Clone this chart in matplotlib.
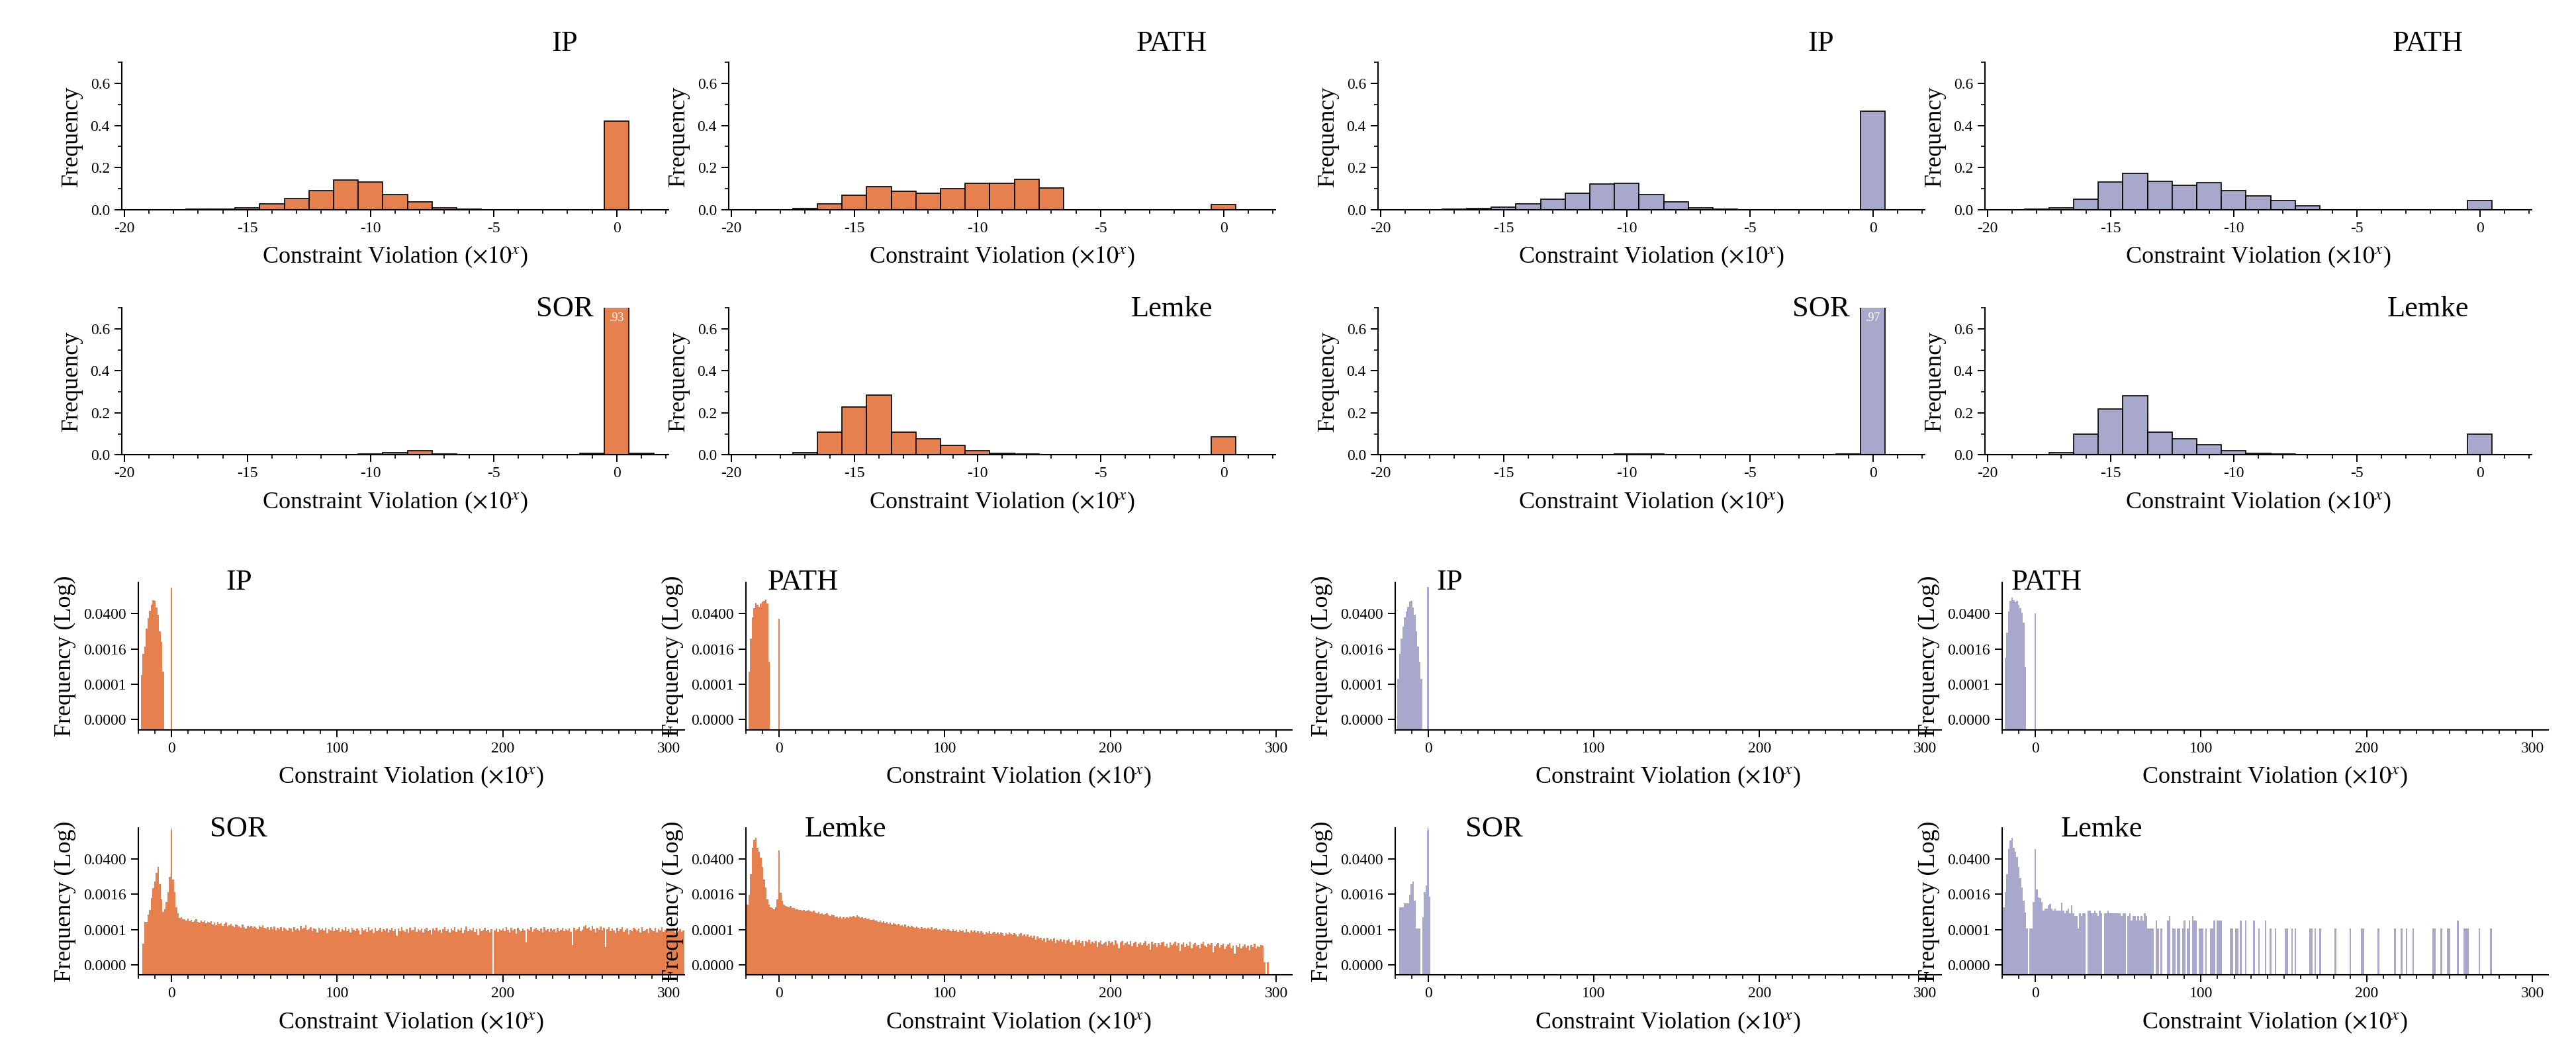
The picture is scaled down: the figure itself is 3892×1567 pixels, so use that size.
import numpy as np
import matplotlib
matplotlib.use('Agg')
import matplotlib.pyplot as plt
from matplotlib.ticker import MultipleLocator, FixedLocator, FixedFormatter, NullLocator

plt.rcParams['font.family'] = 'serif'
plt.rcParams['font.serif'] = ['Liberation Serif', 'DejaVu Serif']
plt.rcParams['mathtext.fontset'] = 'stix'
plt.rcParams['axes.unicode_minus'] = False

ORANGE = '#E6804F'
PURPLE = '#A8A8CC'

# histogram bins (integer exponents), shared by all panels
bins = np.arange(-20, 310)

# frequencies for bins starting at -20
ip_orange = [0, 0, 1.5e-4, 0.001, 0.002, 0.010, 0.026, 0.052, 0.089, 0.140, 0.131,
             0.070, 0.037, 0.008, 0.003, 2e-4, 0, 0, 0, 0, 0.422]
path_orange = [0, 0, 2e-4, 0.004, 0.028, 0.068, 0.110, 0.088, 0.077, 0.101, 0.124,
               0.126, 0.145, 0.104, 5e-4, 0, 0, 0, 0, 0, 0.025]
sor_orange_head = [0, 0, 0, 1.7e-5, 1.26e-4, 1.3e-4, 2.5e-4, 3.8e-4, 1.1e-3, 2.8e-3,
                   0.005, 0.011, 0.019, 0.004, 0.001, 3.2e-4, 4e-4, 8e-4, 0.002, 0.008,
                   0.93, 0.006, 0.002, 5e-4, 2.8e-4, 1.8e-4, 2e-4, 1.6e-4]
# log10 frequency, bins 8..309 (None = empty bin)
sor_orange_tail = [
    -3.78, -3.83, -3.75, -3.86, -3.80, -3.90, -3.84, -3.79, -3.88, -3.92, -3.85, -3.89,
    -3.83, -3.95, -3.88, -3.91, -3.86, -3.99, -3.93, -4.02, -3.90, -3.97,
    -3.94, -4.05, -3.98, -3.92, -4.08, -4.01, -3.96, -4.04, -4.10, -3.99,
    -4.03, -4.07, -4.12, -4.00, -4.09, -4.15, -4.05, -4.11, -4.06, -4.14,
    -4.08, -4.13, -4.18, -4.06, -4.10, -4.02, -4.12, -4.16, -4.09, -4.20,
    -4.11, -4.17, -4.08, -4.22, -4.14, -4.19, -4.10, -4.25, -4.13, -4.18,
    -4.23, -4.12, -4.16, -4.28, -4.09, -4.20, -4.15, -4.24, -4.06, -4.18,
    -4.13, -4.03, -4.21, -4.17, -4.11, -4.26, -4.15, -4.19, -4.30, -4.14,
    -4.20, -4.16, -4.24, -4.12, -4.35, -4.18, -4.22, -4.10, -4.27, -4.16,
    -4.21, -4.14, -4.29, -4.18, -4.23, -4.09, -4.25, -4.17, -4.31, -4.12,
    -4.20, -4.26, -4.15, -4.22, -4.40, -4.13, -4.24, -4.18, -4.28, -4.10,
    -4.23, -4.17, -4.33, -4.14, -4.26, -4.20, -4.12, -4.29, -4.18, -4.24,
    -4.15, -4.30, -4.21, -4.13, -4.27, -4.19, -4.45, -4.16, -4.25, -4.11,
    -4.22, -4.28, -4.17, -4.33, -4.14, -4.24, -4.20, -4.10, -4.29, -4.18,
    -4.23, -4.15, -4.31, -4.19, -4.12, -4.26, -4.21, -4.38, -4.16, -4.24,
    -4.13, -4.27, -4.20, -4.35, -4.17, -4.09, -4.25, -4.19, -4.30, -4.15,
    -4.22, -4.11, -4.28, -4.18, -4.24, -4.14, -4.33, -4.20, -4.08, -4.26,
    -4.17, -4.23, -4.12, -4.29, -4.19, -4.42, -4.16, -4.25, -4.21, -4.13,
    -4.27, -4.20, -4.31, -4.18, None, -4.24, -4.15, -4.28, -4.19, -4.22,
    -4.16, -4.25, -4.10, -4.21, -4.30, -4.14, -4.23, -4.19, -4.36, -4.12,
    -4.20, -4.27, -4.15, -4.24, -4.70, -4.18, -4.22, -4.09, -4.29, -4.17,
    -4.13, -4.21, -4.26, -4.16, -4.32, -4.11, -4.24, -4.19, -4.28, -4.15,
    -4.22, -4.17, -4.30, -4.12, -4.25, -4.20, -4.14, -4.27, -4.18, -4.23,
    -4.16, -4.29, -4.80, -4.13, -4.24, -4.19, -4.11, -4.26, -4.21, -4.08,
    -4.02, -4.15, -4.09, -4.24, -4.05, -4.18, -4.30, -4.12, -4.20, -4.07,
    -4.23, -4.14, -4.90, -4.19, -4.10, -4.27, -4.16, -4.22, -4.33, -4.13,
    -4.25, -4.18, -4.10, -4.29, -4.21, -4.15, -4.38, -4.20, -4.26, -4.12,
    -4.19, -4.24, -4.16, -4.31, -4.09, -4.27, -4.22, -4.17, -4.35, -4.14,
    -4.21, -4.26, -4.13, -4.30, -4.18, -4.24, -4.11, -4.28, -4.20, -4.16,
    -4.23, -4.19, -4.27, -4.14, -4.32, -4.20, -4.25, -4.17, -4.29, -4.22]
lemke_orange_head = [9e-5, 6e-4, 0.0015, 0.010, 0.109, 0.227, 0.284, 0.109, 0.078, 0.046,
                     0.019, 0.006, 0.003, 0.001, 6e-4, 5e-4, 4.5e-4, 4e-4, 5e-4, 0.001,
                     0.086, 0.0018, 9e-4, 6e-4, 5.5e-4]
# log10 frequency, bins 5..296
lemke_orange_tail = [
    -3.28, -3.31, -3.27, -3.35, -3.33,
    -3.40, -3.38, -3.43, -3.41, -3.45, -3.42, -3.47, -3.44, -3.43, -3.46,
    -3.50, -3.45, -3.52, -3.55, -3.49, -3.57, -3.54, -3.60, -3.58, -3.56,
    -3.62, -3.66, -3.59, -3.64, -3.70, -3.67, -3.73, -3.69, -3.75, -3.72,
    -3.76, -3.71, -3.74, -3.69, -3.72, -3.66, -3.70, -3.64, -3.68, -3.73,
    -3.71, -3.76, -3.74, -3.79, -3.77, -3.82, -3.80, -3.78, -3.85, -3.83,
    -3.88, -3.84, -3.91, -3.86, -3.94, -3.89, -3.97, -3.92, -4.00, -3.95,
    -3.98, -4.03, -3.96, -4.05, -4.01, -4.07, -3.99, -4.09, -4.04, -4.11,
    -4.06, -4.10, -4.14, -4.08, -4.13, -4.17, -4.09, -4.15, -4.12, -4.19,
    -4.14, -4.18, -4.11, -4.21, -4.16, -4.13, -4.20, -4.17, -4.23, -4.15,
    -4.19, -4.24, -4.17, -4.22, -4.27, -4.18, -4.25, -4.21, -4.29, -4.20,
    -4.26, -4.23, -4.30, -4.19, -4.28, -4.33, -4.24, -4.29, -4.22, -4.31,
    -4.27, -4.35, -4.25, -4.30, -4.38, -4.28, -4.33, -4.26, -4.36, -4.31,
    -4.29, -4.37, -4.32, -4.40, -4.30, -4.35, -4.43, -4.33, -4.38, -4.31,
    -4.36, -4.42, -4.34, -4.39, -4.47, -4.37, -4.33, -4.44, -4.40, -4.46,
    -4.38, -4.49, -4.43, -4.52, -4.45, -4.60, -4.48, -4.55, -4.51, -4.63,
    -4.56, -4.70, -4.53, -4.62, -4.58, -4.66, -4.54, -4.72, -4.59, -4.64,
    -4.57, -4.68, -4.61, -4.75, -4.63, -4.58, -4.70, -4.65, -4.80, -4.60,
    -4.67, -4.62, -4.74, -4.66, -4.85, -4.64, -4.71, -4.59, -4.77, -4.69,
    -4.73, -4.65, -4.90, -4.70, -4.62, -4.78, -4.72, -4.68, -4.83, -4.66,
    -4.74, -4.69, -4.80, -4.63, -4.77, -4.95, -4.71, -4.66, -4.82, -4.73,
    -4.68, -4.79, -4.64, -4.85, -4.72, -4.67, -4.90, -4.75, -4.70, -4.81,
    -4.73, -4.66, -4.84, -4.76, -5.00, -4.69, -4.78, -4.72, -4.88, -4.74,
    -4.80, -4.71, -4.67, -4.86, -4.75, -4.92, -4.70, -4.82, -4.77, -4.69,
    -4.84, -4.74, -5.05, -4.79, -4.71, -4.88, -4.76, -4.83, -4.68, -4.93,
    -4.78, -4.72, -4.86, -4.80, -4.95, -4.75, -4.69, -4.84, -4.90, -4.77,
    -4.82, -4.74, -5.10, -4.87, -4.79, -4.73, -4.91, -4.81, -4.76, -4.98,
    -4.85, -4.78, -4.74, -4.93, -4.83, -5.15, -4.80, -4.88, -4.76, -4.95,
    -4.86, -4.79, -4.92, -4.84, -5.02, -4.81, -4.89, -4.77, -4.94, -4.85,
    -4.88, -4.80, -4.83, -5.50, None, -5.50, None]

ip_purple = [0, 0, 1e-4, 0.001, 0.004, 0.012, 0.028, 0.050, 0.077, 0.123, 0.126,
             0.071, 0.036, 0.008, 0.002, 5e-4, 1e-4, 0, 0, 0, 0.469]
path_purple = [0, 0, 7e-4, 0.007, 0.049, 0.131, 0.173, 0.135, 0.116, 0.128, 0.091,
               0.065, 0.043, 0.017, 3e-4, 0, 0, 0, 0, 0, 0.042]
sor_purple = [0, 0, 0, 5e-4, 5e-4, 5e-4, 7e-4, 7e-4, 7e-4, 0.0015, 0.004,
              0.005, 9e-4, 7e-5, 7e-5, 7e-5, 0, 2e-4, 0.0019, 0.0035, 0.97, 0.0013]
lemke_purple_head = [7e-5, 5e-4, 0.002, 0.010, 0.100, 0.219, 0.280, 0.109, 0.078, 0.047,
                     0.019, 0.007, 0.003, 9e-4, 3e-4, 7e-5, 0, 7e-5, 7e-5, 8e-4,
                     0.100, 0.0025, 0.0012, 0.0011, 8e-4]
lemke_purple_unit = 7.2e-5  # frequency of a single sample
# sample counts, bins 5..70
lemke_purple_counts = [5, 6, 6, 8, 9, 6, 5, 6, 5, 5, 5, 10, 5, 4, 5, 6, 4, 8, 4, 3,
                       3, 1, 4, 3, 4, 4, 0, 5, 5, 4, 4, 5, 4, 3, 5, 4, 0, 4, 4, 5,
                       4, 4, 4, 4, 4, 4, 4, 3, 4, 4, 0, 3, 4, 2, 3, 3, 2, 3, 2, 3,
                       2, 4, 3, 1, 1, 1]
lemke_purple_sparse_x = [71, 73, 74, 76, 80, 81, 83, 84, 86, 87, 89, 90, 92, 93, 95, 96, 97,
                         99, 100, 101, 103, 106, 107, 108, 110, 111, 112, 118, 119, 121,
                         122, 124, 127, 132, 135, 139, 142, 145, 151, 152, 155, 157, 166,
                         167, 169, 172, 181, 190, 197, 198, 207, 217, 221, 224, 228, 240,
                         241, 245, 249, 250, 255, 259, 260, 261, 268, 275]
lemke_purple_sparse_n = [1, 2, 1, 1, 2, 3, 1, 1, 1, 1, 1, 2, 1, 2, 3, 2, 2, 1, 1, 1,
                         1, 1, 1, 2, 2, 2, 2, 1, 1, 1, 1, 2, 2, 2, 1, 2, 1, 1, 1, 1,
                         1, 1, 1, 1, 1, 1, 1, 1, 1, 1, 1, 1, 1, 1, 1, 1, 1, 1, 1, 1,
                         2, 1, 1, 1, 1, 1]

solvers = ['IP', 'PATH', 'SOR', 'Lemke']


def full(head, tail_log=None, tail_start=None):
    out = np.zeros(len(bins))
    out[:len(head)] = head
    if tail_log is not None:
        i0 = tail_start - bins[0]
        vals = [0.0 if v is None else 10 ** v for v in tail_log]
        out[i0:i0 + len(vals)] = vals
    return out


lemke_purple = full(lemke_purple_head)
lemke_purple[5 - bins[0]:5 - bins[0] + len(lemke_purple_counts)] = np.array(lemke_purple_counts) * lemke_purple_unit
for xv, nv in zip(lemke_purple_sparse_x, lemke_purple_sparse_n):
    lemke_purple[xv - bins[0]] = nv * lemke_purple_unit

data = {
    'orange': {'IP': full(ip_orange), 'PATH': full(path_orange),
               'SOR': full(sor_orange_head, sor_orange_tail, 8),
               'Lemke': full(lemke_orange_head, lemke_orange_tail, 5)},
    'purple': {'IP': full(ip_purple), 'PATH': full(path_purple),
               'SOR': full(sor_purple), 'Lemke': lemke_purple},
}
colors = {'orange': ORANGE, 'purple': PURPLE}
peak_labels = {('orange', 'SOR'): '.93', ('purple', 'SOR'): '.97'}

W, H = 3892, 1567
fig = plt.figure(figsize=(W / 100, H / 100), dpi=100)


def rect(left, top, w, h):
    return [left / W, 1 - (top + h) / H, w / W, h / H]


xlabel = r'Constraint Violation ($\times10^{x}$)'


def style(ax):
    for s in ['top', 'right']:
        ax.spines[s].set_visible(False)
    for s in ['left', 'bottom']:
        ax.spines[s].set_linewidth(1.5)
    ax.tick_params(which='major', direction='out', length=8, width=1.4, labelsize=17, pad=5)
    ax.tick_params(which='minor', direction='out', length=4, width=1.2)


top_lefts = {'orange': [184, 1101], 'purple': [2082, 2999]}
bot_lefts = {'orange': [209, 1127], 'purple': [2107.5, 3025]}
top_tops = [94.3, 465]
bot_tops = [880, 1250.7]
# horizontal position of the solver name on the log panels (axes fraction)
bot_title_x = {('orange', 'IP'): 0.185, ('orange', 'PATH'): 0.105,
               ('purple', 'IP'): 0.10, ('purple', 'PATH'): 0.082,
               ('orange', 'SOR'): 0.183, ('orange', 'Lemke'): 0.182,
               ('purple', 'SOR'): 0.182, ('purple', 'Lemke'): 0.182}

for group in ['orange', 'purple']:
    for k, name in enumerate(solvers):
        r, c = divmod(k, 2)
        vals = data[group][name]
        nz = vals > 0

        # linear histogram, zoomed on the left part
        ax = fig.add_axes(rect(top_lefts[group][c], top_tops[r], 826, 222.4))
        sel = bins <= 2
        ax.bar(bins[sel], vals[sel], width=1, color=colors[group], edgecolor='black', linewidth=1.2)
        ax.set_xlim(-20.1, 2.1)
        ax.set_ylim(0, 0.7)
        ax.xaxis.set_major_locator(MultipleLocator(5))
        ax.xaxis.set_minor_locator(MultipleLocator(1))
        ax.yaxis.set_major_locator(MultipleLocator(0.2))
        ax.yaxis.set_minor_locator(MultipleLocator(0.1))
        ax.yaxis.set_major_formatter(plt.FuncFormatter(lambda v, p: f'{v:.1f}'))
        ax.xaxis.set_major_formatter(plt.FuncFormatter(lambda v, p: f'{v:.0f}'))
        style(ax)
        ax.set_xlabel(xlabel, fontsize=26, labelpad=10)
        ax.set_ylabel('Frequency', fontsize=26, labelpad=8)
        ax.text(0.81, 1.08 if r == 0 else 0.94, name, transform=ax.transAxes,
                ha='center', va='baseline', fontsize=32)
        if (group, name) in peak_labels:
            ax.text(0, 0.65, peak_labels[(group, name)], color='white', fontsize=13,
                    ha='center', va='center')

        # full range, log frequency
        ax = fig.add_axes(rect(bot_lefts[group][c], bot_tops[r], 825, 222.6))
        ax.bar(bins[nz], vals[nz], width=1, color=colors[group], linewidth=0)
        ax.set_yscale('log')
        ax.set_xlim(-20, 309.5)
        ax.set_ylim(1e-6, 0.7)
        yt = [0.04, 0.0016, 0.000064, 0.00000256]
        ax.yaxis.set_major_locator(FixedLocator(yt))
        ax.yaxis.set_major_formatter(FixedFormatter([f'{v:.4f}' for v in yt]))
        ax.yaxis.set_minor_locator(NullLocator())
        ax.xaxis.set_major_locator(MultipleLocator(100))
        ax.xaxis.set_minor_locator(MultipleLocator(10))
        style(ax)
        ax.set_xlabel(xlabel, fontsize=26, labelpad=10)
        ax.set_ylabel('Frequency (Log)', fontsize=26, labelpad=8)
        ax.text(bot_title_x[(group, name)], 0.95 if r == 0 else 0.94, name,
                transform=ax.transAxes, ha='center', va='baseline', fontsize=32)
        if (group, name) in peak_labels:
            ax.text(0, 0.65, peak_labels[(group, name)], color='white', fontsize=13,
                    ha='center', va='center')

fig.savefig('out.png', dpi=100)
